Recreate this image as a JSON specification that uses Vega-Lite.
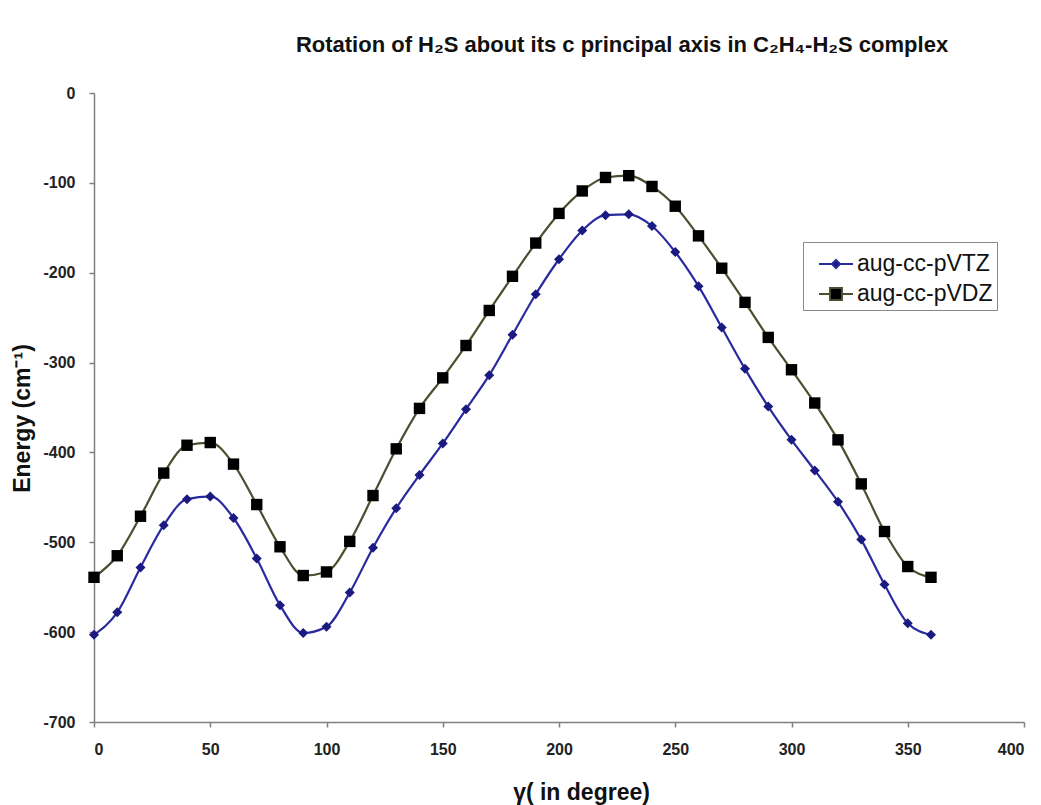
{
  "$schema": "https://vega.github.io/schema/vega-lite/v6.json",
  "autosize": "none",
  "width": 930,
  "height": 629,
  "padding": {"left": 94, "top": 93, "right": 17, "bottom": 83},
  "background": "white",
  "config": {
    "view": {"stroke": null},
    "font": "Liberation Sans"
  },
  "title": {
    "text": "Rotation of H₂S about its c principal axis in C₂H₄-H₂S complex",
    "font": "Liberation Sans",
    "fontSize": 22,
    "fontWeight": "bold",
    "color": "#111",
    "anchor": "middle",
    "dx": 63,
    "offset": 28
  },
  "data": {
    "values": [
      {"gamma": 0, "series": "aug-cc-pVTZ", "energy": -603},
      {"gamma": 10, "series": "aug-cc-pVTZ", "energy": -578},
      {"gamma": 20, "series": "aug-cc-pVTZ", "energy": -528},
      {"gamma": 30, "series": "aug-cc-pVTZ", "energy": -481},
      {"gamma": 40, "series": "aug-cc-pVTZ", "energy": -452},
      {"gamma": 50, "series": "aug-cc-pVTZ", "energy": -449},
      {"gamma": 60, "series": "aug-cc-pVTZ", "energy": -473},
      {"gamma": 70, "series": "aug-cc-pVTZ", "energy": -518},
      {"gamma": 80, "series": "aug-cc-pVTZ", "energy": -570},
      {"gamma": 90, "series": "aug-cc-pVTZ", "energy": -601},
      {"gamma": 100, "series": "aug-cc-pVTZ", "energy": -594},
      {"gamma": 110, "series": "aug-cc-pVTZ", "energy": -556},
      {"gamma": 120, "series": "aug-cc-pVTZ", "energy": -506},
      {"gamma": 130, "series": "aug-cc-pVTZ", "energy": -462},
      {"gamma": 140, "series": "aug-cc-pVTZ", "energy": -425},
      {"gamma": 150, "series": "aug-cc-pVTZ", "energy": -390},
      {"gamma": 160, "series": "aug-cc-pVTZ", "energy": -352},
      {"gamma": 170, "series": "aug-cc-pVTZ", "energy": -314},
      {"gamma": 180, "series": "aug-cc-pVTZ", "energy": -269},
      {"gamma": 190, "series": "aug-cc-pVTZ", "energy": -224},
      {"gamma": 200, "series": "aug-cc-pVTZ", "energy": -185},
      {"gamma": 210, "series": "aug-cc-pVTZ", "energy": -153},
      {"gamma": 220, "series": "aug-cc-pVTZ", "energy": -136},
      {"gamma": 230, "series": "aug-cc-pVTZ", "energy": -135},
      {"gamma": 240, "series": "aug-cc-pVTZ", "energy": -148},
      {"gamma": 250, "series": "aug-cc-pVTZ", "energy": -177},
      {"gamma": 260, "series": "aug-cc-pVTZ", "energy": -215},
      {"gamma": 270, "series": "aug-cc-pVTZ", "energy": -261},
      {"gamma": 280, "series": "aug-cc-pVTZ", "energy": -307},
      {"gamma": 290, "series": "aug-cc-pVTZ", "energy": -349},
      {"gamma": 300, "series": "aug-cc-pVTZ", "energy": -386},
      {"gamma": 310, "series": "aug-cc-pVTZ", "energy": -420},
      {"gamma": 320, "series": "aug-cc-pVTZ", "energy": -455},
      {"gamma": 330, "series": "aug-cc-pVTZ", "energy": -497},
      {"gamma": 340, "series": "aug-cc-pVTZ", "energy": -547},
      {"gamma": 350, "series": "aug-cc-pVTZ", "energy": -590},
      {"gamma": 360, "series": "aug-cc-pVTZ", "energy": -603},
      {"gamma": 0, "series": "aug-cc-pVDZ", "energy": -539},
      {"gamma": 10, "series": "aug-cc-pVDZ", "energy": -515},
      {"gamma": 20, "series": "aug-cc-pVDZ", "energy": -471},
      {"gamma": 30, "series": "aug-cc-pVDZ", "energy": -423},
      {"gamma": 40, "series": "aug-cc-pVDZ", "energy": -392},
      {"gamma": 50, "series": "aug-cc-pVDZ", "energy": -389},
      {"gamma": 60, "series": "aug-cc-pVDZ", "energy": -413},
      {"gamma": 70, "series": "aug-cc-pVDZ", "energy": -458},
      {"gamma": 80, "series": "aug-cc-pVDZ", "energy": -505},
      {"gamma": 90, "series": "aug-cc-pVDZ", "energy": -537},
      {"gamma": 100, "series": "aug-cc-pVDZ", "energy": -533},
      {"gamma": 110, "series": "aug-cc-pVDZ", "energy": -499},
      {"gamma": 120, "series": "aug-cc-pVDZ", "energy": -448},
      {"gamma": 130, "series": "aug-cc-pVDZ", "energy": -396},
      {"gamma": 140, "series": "aug-cc-pVDZ", "energy": -351},
      {"gamma": 150, "series": "aug-cc-pVDZ", "energy": -317},
      {"gamma": 160, "series": "aug-cc-pVDZ", "energy": -281},
      {"gamma": 170, "series": "aug-cc-pVDZ", "energy": -242},
      {"gamma": 180, "series": "aug-cc-pVDZ", "energy": -204},
      {"gamma": 190, "series": "aug-cc-pVDZ", "energy": -167},
      {"gamma": 200, "series": "aug-cc-pVDZ", "energy": -134},
      {"gamma": 210, "series": "aug-cc-pVDZ", "energy": -109},
      {"gamma": 220, "series": "aug-cc-pVDZ", "energy": -94},
      {"gamma": 230, "series": "aug-cc-pVDZ", "energy": -92},
      {"gamma": 240, "series": "aug-cc-pVDZ", "energy": -104},
      {"gamma": 250, "series": "aug-cc-pVDZ", "energy": -126},
      {"gamma": 260, "series": "aug-cc-pVDZ", "energy": -159},
      {"gamma": 270, "series": "aug-cc-pVDZ", "energy": -195},
      {"gamma": 280, "series": "aug-cc-pVDZ", "energy": -233},
      {"gamma": 290, "series": "aug-cc-pVDZ", "energy": -272},
      {"gamma": 300, "series": "aug-cc-pVDZ", "energy": -308},
      {"gamma": 310, "series": "aug-cc-pVDZ", "energy": -345},
      {"gamma": 320, "series": "aug-cc-pVDZ", "energy": -386},
      {"gamma": 330, "series": "aug-cc-pVDZ", "energy": -435},
      {"gamma": 340, "series": "aug-cc-pVDZ", "energy": -488},
      {"gamma": 350, "series": "aug-cc-pVDZ", "energy": -527},
      {"gamma": 360, "series": "aug-cc-pVDZ", "energy": -539}
    ]
  },
  "encoding": {
    "x": {
      "field": "gamma",
      "type": "quantitative",
      "scale": {"domain": [0, 400], "nice": false},
      "axis": {
        "values": [0, 50, 100, 150, 200, 250, 300, 350, 400],
        "labelExpr": "datum.value + ''",
        "grid": false,
        "domainColor": "#808080",
        "domainWidth": 1.5,
        "tickColor": "#808080",
        "tickWidth": 1.5,
        "tickSize": 5,
        "labelFont": "Liberation Sans",
        "labelFontSize": 16,
        "labelFontWeight": "bold",
        "labelColor": "#222",
        "labelPadding": 14,
        "title": "γ( in degree)",
        "titleFont": "Liberation Sans",
        "titleFontSize": 23,
        "titleFontWeight": "bold",
        "titleColor": "#111",
        "titleX": 487,
        "titleY": 70,
        "titleAlign": "center",
        "titleBaseline": "middle"
      }
    },
    "y": {
      "field": "energy",
      "type": "quantitative",
      "scale": {"domain": [-700, 0], "nice": false, "zero": false},
      "axis": {
        "values": [-700, -600, -500, -400, -300, -200, -100, 0],
        "labelExpr": "datum.value + ''",
        "grid": false,
        "domainColor": "#808080",
        "domainWidth": 1.5,
        "tickColor": "#808080",
        "tickWidth": 1.5,
        "tickSize": 5,
        "labelFont": "Liberation Sans",
        "labelFontSize": 16,
        "labelFontWeight": "bold",
        "labelColor": "#222",
        "labelPadding": 14,
        "title": "Energy (cm⁻¹)",
        "titleFont": "Liberation Sans",
        "titleFontSize": 23,
        "titleFontWeight": "bold",
        "titleColor": "#111",
        "titleX": -72,
        "titleY": 325,
        "titleAngle": -90,
        "titleAlign": "center",
        "titleBaseline": "middle"
      }
    }
  },
  "layer": [
    {
      "mark": {"type": "line", "interpolate": "monotone", "strokeWidth": 2.2},
      "encoding": {
        "color": {
          "field": "series",
          "type": "nominal",
          "scale": {"domain": ["aug-cc-pVTZ", "aug-cc-pVDZ"], "range": ["#2a2aa0", "#4d4d30"]},
          "legend": {
            "title": null,
            "orient": "none",
            "legendX": 709,
            "legendY": 149,
            "direction": "vertical",
            "fillColor": "white",
            "strokeColor": "#888888",
            "padding": 4,
            "rowPadding": -1,
            "symbolOffset": 11,
            "symbolSize": 1156,
            "symbolStrokeWidth": 2,
            "labelFont": "Liberation Sans",
            "labelFontSize": 23,
            "labelColor": "#111",
            "labelOffset": 3,
            "labelExpr": "datum.label + '  '",
            "encode": {
              "symbols": {
                "update": {
                  "shape": {"signal": "datum.value === 'aug-cc-pVTZ' ? 'M-1,0L-0.24,0M0.24,0L1,0M0,-0.24L0.24,0L0,0.24L-0.24,0Z' : 'M-1,0L-0.35,0M0.35,0L1,0M-0.35,-0.35L0.35,-0.35L0.35,0.35L-0.35,0.35Z'"},
                  "fill": {"signal": "datum.value === 'aug-cc-pVTZ' ? '#1a1a80' : '#000000'"},
                  "fillOpacity": {"value": 1}
                }
              }
            }
          }
        }
      }
    },
    {
      "transform": [{"filter": "datum.series === 'aug-cc-pVTZ'"}],
      "mark": {"type": "point", "shape": "diamond", "filled": true, "opacity": 1, "size": 100, "color": "#1a1a80"}
    },
    {
      "transform": [{"filter": "datum.series === 'aug-cc-pVDZ'"}],
      "mark": {"type": "point", "shape": "square", "filled": true, "opacity": 1, "size": 130, "color": "#000000"}
    }
  ]
}
